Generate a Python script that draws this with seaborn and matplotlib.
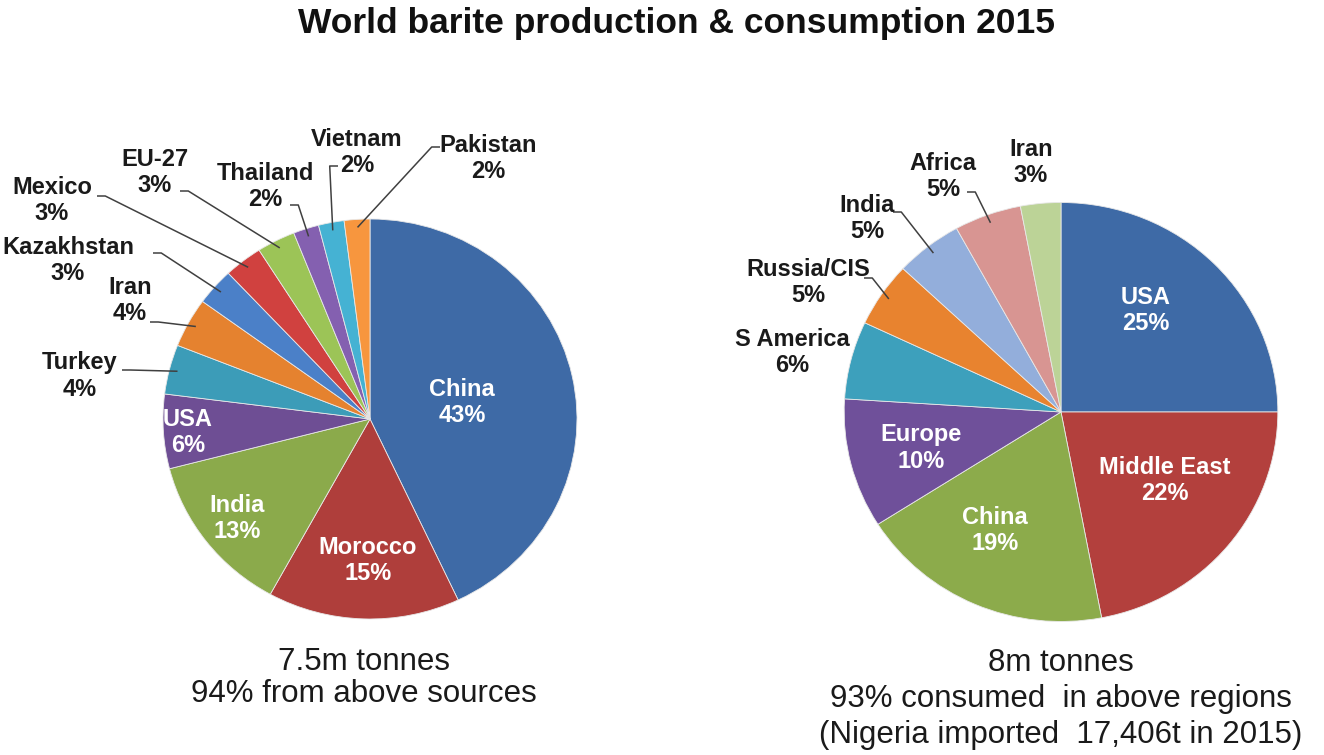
import numpy as np
import matplotlib
matplotlib.use("Agg")
import matplotlib.pyplot as plt
import seaborn as sns

W, H = 1324, 755
SX = 1.035  # the source picture is slightly stretched horizontally

title = "World barite production & consumption 2015"

# production (left pie)
prod_names = ["China", "Morocco", "India", "USA", "Turkey", "Iran", "Kazakhstan",
              "Mexico", "EU-27", "Thailand", "Vietnam", "Pakistan"]
prod_share = [43, 15, 13, 6, 4, 4, 3, 3, 3, 2, 2, 2]
prod_caption = ["7.5m tonnes", "94% from above sources"]

# consumption (right pie)
cons_names = ["USA", "Middle East", "China", "Europe", "S America",
              "Russia/CIS", "India", "Africa", "Iran"]
cons_share = [25, 22, 19, 10, 6, 5, 5, 5, 3]
cons_caption = ["8m tonnes", "93% consumed  in above regions",
                "(Nigeria imported  17,406t in 2015)"]

prod_colors = ["#3E6AA6", "#AF3E3B", "#8BAA4B", "#6E4E94", "#3C9CB8", "#E5822F",
               "#4B80C8", "#D0413F", "#9CC457", "#8460B0", "#45B2D3", "#F7963E"]
cons_colors = ["#3E6AA6", "#B3403D", "#8CAB4B", "#6F509A", "#3DA0BC",
               "#E8832F", "#93AEDB", "#D89592", "#BCD397"]

# label layout in pixel coords (text centre, leader start or None)
prod_layout = {
    "China": (462, 403, None), "Morocco": (368, 560, None),
    "India": (237, 519, None), "USA": (188, 433, None),
    "Turkey": (80, 376, (122, 370)), "Iran": (130, 301, (150, 322)),
    "Kazakhstan": (68, 260, (153, 253)), "Mexico": (52, 201, (97, 196)),
    "EU-27": (155, 172, (180, 191)), "Thailand": (265, 186, (290, 205)),
    "Vietnam": (357, 153, (338, 166)), "Pakistan": (488, 158, (440, 147)),
}
cons_layout = {
    "USA": (1146, 310, None), "Middle East": (1165, 480, None),
    "China": (995, 531, None), "Europe": (921, 448, None),
    "S America": (792, 352, None), "Russia/CIS": (808, 283, (864, 278)),
    "India": (867, 219, (893, 212)), "Africa": (943, 176, (967, 192)),
    "Iran": (1031, 163, None),
}
prod_inside = {"China", "Morocco", "India", "USA"}
cons_inside = {"USA", "Middle East", "China", "Europe"}


def draw_pie(ax, names, shares, colors, center, radius, layout, inside):
    cx, cy = center[0] / SX, H - center[1]
    wedges, _ = ax.pie(shares, colors=colors, startangle=90, counterclock=False,
                       center=(cx, cy), radius=radius,
                       wedgeprops=dict(linewidth=0.6, edgecolor="#e8e8e8"))
    for w, name, share in zip(wedges, names, shares):
        x, y, start = layout[name]
        col = "white" if name in inside else "#1a1a1a"
        # name and percentage as two separate lines, 26 px apart
        for dy, txt in ((-13, name), (13, "{0}%".format(share))):
            ax.text(x / SX, H - (y + dy), txt, ha="center", va="center",
                    fontsize=17, fontweight="bold", color=col)
        if start is not None:
            mid = np.deg2rad((w.theta1 + w.theta2) / 2)
            ex = cx + 0.96 * radius * np.cos(mid)
            ey = cy + 0.96 * radius * np.sin(mid)
            sx, sy = start[0] / SX, H - start[1]
            stub = 8 if ex > sx else -8
            ax.plot([sx, sx + stub, ex], [sy, sy, ey], color="#404040", lw=1.1,
                    solid_capstyle="butt")


sns.set_theme(style="white")
plt.rcParams["font.family"] = ["Liberation Sans", "DejaVu Sans"]

fig = plt.figure(figsize=(W / 100, H / 100), dpi=100)
ax = fig.add_axes([0, 0, 1, 1])

draw_pie(ax, prod_names, prod_share, prod_colors, (370, 419), 200, prod_layout, prod_inside)
draw_pie(ax, cons_names, cons_share, cons_colors, (1061, 412), 209.5, cons_layout, cons_inside)

ax.set_xlim(0, W / SX)
ax.set_ylim(0, H)
ax.set_aspect("auto")
ax.axis("off")

ax.text(677 / SX, H - 23, title, ha="center", va="center", fontsize=25.5,
        fontweight="bold", color="#111111")

for i, line in enumerate(prod_caption):
    ax.text(364 / SX, H - (662 + 32 * i), line, ha="center", va="center",
            fontsize=22.5, color="#1a1a1a")
for i, line in enumerate(cons_caption):
    ax.text(1061 / SX, H - (663 + 36 * i), line, ha="center", va="center",
            fontsize=22.5, color="#1a1a1a")

fig.savefig("out.png", dpi=100, facecolor="white")
